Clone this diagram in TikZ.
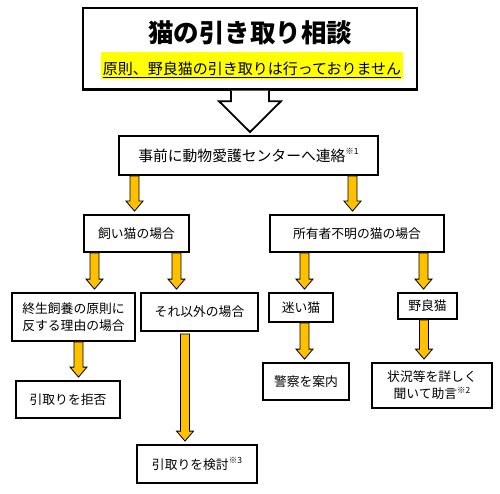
\documentclass[tikz,border=0pt]{standalone}
\usepackage{fontspec}
\setmainfont{Noto Sans CJK JP}
\usetikzlibrary{calc}
\definecolor{arrorange}{HTML}{FFC000}
\definecolor{hiyellow}{HTML}{FFFF00}
\tikzset{
  box/.style={draw=black, line width=1.8pt, fill=white, inner sep=0pt, align=center,
    font=\fontsize{12.8}{17}\selectfont},
  orarr/.style={fill=arrorange, draw=black, line width=0.8pt, line join=miter},
  bigarr/.style={fill=white, draw=black, line width=1.8pt, line join=miter},
}
\newcommand\supnote[1]{\raisebox{0.45em}{\fontsize{8.5}{8.5}\selectfont ※#1}}
% #1 x, #2 from node, #3 to node, #4 start gap
\newcommand\orarrow[4]{%
  \draw[orarr] let \p1=(#2.south), \p2=(#3.north) in
   (#1pt-4.5pt,\y1-#4pt) -- (#1pt-4.5pt,\y2+13pt) -- (#1pt-8.5pt,\y2+13pt) --
   (#1pt,\y2+3pt) -- (#1pt+8.5pt,\y2+13pt) -- (#1pt+4.5pt,\y2+13pt) --
   (#1pt+4.5pt,\y1-#4pt) -- cycle;}
\begin{document}
\begin{tikzpicture}[x=1pt,y=-1pt]
\useasboundingbox (0,0) rectangle (500,494);

% boxes
\node[box, line width=2.5pt, minimum width=334pt, minimum height=81.5pt] (top) at (250,48.75) {};
\node[fill=hiyellow, minimum width=302pt, minimum height=27pt, inner sep=0pt] (band) at (252,65.5) {};
\node[font=\fontsize{25.5}{27}\selectfont\bfseries, inner sep=0pt] (title) at (250,33) {猫の引き取り相談};
\node[font=\fontsize{15}{16}\selectfont, inner sep=0pt] (sub) at (252,69.5) {\underline{原則、野良猫の引き取りは行っておりません}};

\node[box, line width=2pt, minimum width=259pt, minimum height=39pt, font=\fontsize{14.8}{16}\selectfont] (renkei) at (248.5,155.5) {事前に動物愛護センターへ連絡\supnote{1}};

\node[box, minimum width=105pt, minimum height=37pt] (kai) at (136.5,233.5) {飼い猫の場合};
\node[box, minimum width=174pt, minimum height=37pt] (fumei) at (357,233.5) {所有者不明の猫の場合};
\node[box, minimum width=123pt, minimum height=48pt] (shusei) at (73.5,317) {終生飼養の原則に\\反する理由の場合};
\node[box, minimum width=117pt, minimum height=38pt] (igai) at (199.5,312) {それ以外の場合};
\node[box, minimum width=64pt, minimum height=29pt] (mayoi) at (301,307.5) {迷い猫};
\node[box, minimum width=59pt, minimum height=26pt] (nora) at (427.5,306) {野良猫};
\node[box, minimum width=86pt, minimum height=37pt] (keisatsu) at (306,381.5) {警察を案内};
\node[box, minimum width=120pt, minimum height=45pt] (jokyo) at (432,385.5) {状況等を詳しく\\聞いて助言\supnote{2}};
\node[box, minimum width=104pt, minimum height=37pt] (kyohi) at (68,399.5) {引取りを拒否};
\node[box, minimum width=120pt, minimum height=38pt] (kento) at (197,464) {引取りを検討\supnote{3}};

% hollow arrow
\draw[bigarr] let \p1=(top.south), \p2=(renkei.north) in
  (231pt,\y1) -- (231pt,\y1-10.5pt) -- (219pt,\y1-10.5pt) -- (250pt,\y2+3pt) --
  (281pt,\y1-10.5pt) -- (269pt,\y1-10.5pt) -- (269pt,\y1);

% orange arrows
\orarrow{134.5}{renkei}{kai}{0}
\orarrow{352.5}{renkei}{fumei}{0}
\orarrow{94.5}{kai}{shusei}{0}
\orarrow{176.5}{kai}{igai}{0}
\orarrow{304.5}{fumei}{mayoi}{0}
\orarrow{423.5}{fumei}{nora}{0}
\orarrow{304.5}{mayoi}{keisatsu}{0}
\orarrow{424}{nora}{jokyo}{0}
\orarrow{78.5}{shusei}{kyohi}{0}
\orarrow{185}{igai}{kento}{2}
\end{tikzpicture}
\end{document}
